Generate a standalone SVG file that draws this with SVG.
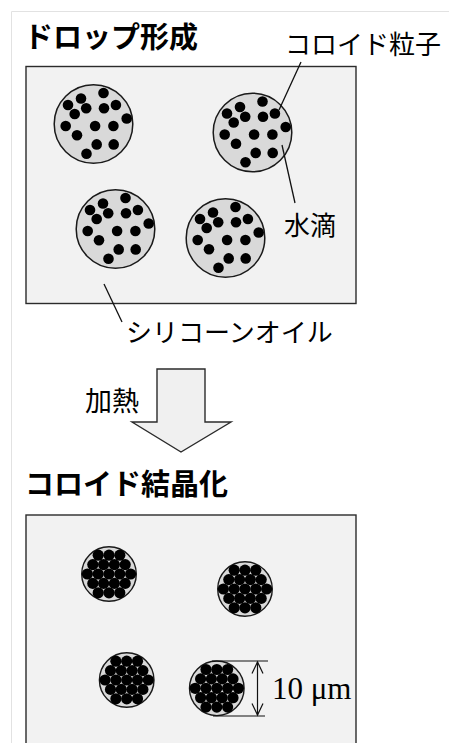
<svg xmlns="http://www.w3.org/2000/svg" width="449" height="743" viewBox="0 0 449 743">
  <style>
    .page { fill: none; stroke: #e2e2e2; stroke-width: 1; }
    .panel { fill: #f2f2f2; stroke: #2b2b2b; stroke-width: 1.4; }
    .drop { fill: #d9d9d9; stroke: #1a1a1a; stroke-width: 1.5; }
    .crystal { fill: #d9d9d9; stroke: #1a1a1a; stroke-width: 1.4; }
    .dot { fill: #000; }
    .lead { fill: none; stroke: #111; stroke-width: 1.3; }
    .dim { fill: none; stroke: #111; stroke-width: 1.2; }
    .arrow { fill: #f0f0f0; stroke: #2b2b2b; stroke-width: 1.4; stroke-linejoin: miter; }
    .title { font-family: "Noto Sans CJK JP", "Noto Sans", sans-serif; font-weight: bold; font-size: 29px; fill: #000; }
    .label { font-family: "Noto Sans CJK JP", "Noto Sans", sans-serif; font-size: 26px; fill: #000; }
    .serif { font-family: "Liberation Serif", "Noto Sans CJK JP", serif; font-size: 31px; fill: #000; }
  </style>
  <defs>
    <!-- scattered colloid particles inside a water drop (centre at 0,0) -->
    <g id="scatter">
      <circle class="dot" cx="10" cy="-31" r="5.3"/>
      <circle class="dot" cx="-12.5" cy="-25.5" r="5.3"/>
      <circle class="dot" cx="-25.5" cy="-19" r="5.3"/>
      <circle class="dot" cx="-7.3" cy="-15.7" r="5.3"/>
      <circle class="dot" cx="10.5" cy="-15.7" r="5.3"/>
      <circle class="dot" cx="22.4" cy="-19" r="5.3"/>
      <circle class="dot" cx="-18.8" cy="-10" r="5.3"/>
      <circle class="dot" cx="33.2" cy="-5.5" r="5.3"/>
      <circle class="dot" cx="-27.8" cy="2" r="5.3"/>
      <circle class="dot" cx="1.6" cy="2" r="5.3"/>
      <circle class="dot" cx="19.9" cy="2" r="5.3"/>
      <circle class="dot" cx="-16.5" cy="11.2" r="5.3"/>
      <circle class="dot" cx="3.2" cy="20.4" r="5.3"/>
      <circle class="dot" cx="20.2" cy="20.4" r="5.3"/>
      <circle class="dot" cx="-7" cy="29.7" r="5.3"/>
    </g>
    <!-- hexagonally packed particles (rows 3-4-5-4-3) -->
    <g id="packed">
      <circle class="dot" cx="-10.8" cy="-18.8" r="5.6"/>
      <circle class="dot" cx="0" cy="-18.8" r="5.6"/>
      <circle class="dot" cx="10.8" cy="-18.8" r="5.6"/>
      <circle class="dot" cx="-16.2" cy="-9.4" r="5.6"/>
      <circle class="dot" cx="-5.4" cy="-9.4" r="5.6"/>
      <circle class="dot" cx="5.4" cy="-9.4" r="5.6"/>
      <circle class="dot" cx="16.2" cy="-9.4" r="5.6"/>
      <circle class="dot" cx="-21.6" cy="0" r="5.6"/>
      <circle class="dot" cx="-10.8" cy="0" r="5.6"/>
      <circle class="dot" cx="0" cy="0" r="5.6"/>
      <circle class="dot" cx="10.8" cy="0" r="5.6"/>
      <circle class="dot" cx="21.6" cy="0" r="5.6"/>
      <circle class="dot" cx="-16.2" cy="9.4" r="5.6"/>
      <circle class="dot" cx="-5.4" cy="9.4" r="5.6"/>
      <circle class="dot" cx="5.4" cy="9.4" r="5.6"/>
      <circle class="dot" cx="16.2" cy="9.4" r="5.6"/>
      <circle class="dot" cx="-10.8" cy="18.8" r="5.6"/>
      <circle class="dot" cx="0" cy="18.8" r="5.6"/>
      <circle class="dot" cx="10.8" cy="18.8" r="5.6"/>
    </g>
  </defs>

  <rect width="449" height="743" fill="#fff"/>
  <path class="page" d="M449 11.5 H11.5 V743"/>

  <!-- stage 1: droplet formation -->
  <text class="title" x="24" y="48">ドロップ形成</text>
  <rect id="oil-bath-1" class="panel" x="26" y="66.5" width="330" height="237"/>

  <g id="drop-1">
    <circle class="drop" cx="93.5" cy="124" r="39.3"/>
    <use href="#scatter" x="93.5" y="124"/>
  </g>
  <g id="drop-2">
    <circle class="drop" cx="252.5" cy="132.5" r="39.3"/>
    <use href="#scatter" x="252.5" y="132.5"/>
  </g>
  <g id="drop-3">
    <circle class="drop" cx="115.5" cy="229" r="39.3"/>
    <use href="#scatter" x="115.5" y="229"/>
  </g>
  <g id="drop-4">
    <circle class="drop" cx="225.5" cy="238" r="39.3"/>
    <use href="#scatter" x="225.5" y="238"/>
  </g>

  <g id="connectors">
    <line class="lead" x1="301" y1="62" x2="279" y2="110"/>
    <line class="lead" x1="282" y1="145" x2="295" y2="203"/>
    <line class="lead" x1="104" y1="284" x2="122" y2="322"/>
  </g>

  <text class="label" x="285" y="54">コロイド粒子</text>
  <text class="label" x="284" y="235">水滴</text>
  <text class="label" x="126" y="342">シリコーンオイル</text>

  <!-- heating step -->
  <g id="heat-arrow">
    <path class="arrow" d="M157 369 H205 V422 H231 L181 452 L132 422 H157 Z"/>
    <text class="label" x="85" y="411" style="font-size:27px">加熱</text>
  </g>

  <!-- stage 2: colloidal crystallisation -->
  <text class="title" x="25" y="495">コロイド結晶化</text>
  <rect id="oil-bath-2" class="panel" x="26" y="515" width="330" height="240"/>

  <g id="crystal-1">
    <circle class="crystal" cx="109" cy="574" r="27.3"/>
    <use href="#packed" x="109" y="574"/>
  </g>
  <g id="crystal-2">
    <circle class="crystal" cx="245" cy="589" r="27.3"/>
    <use href="#packed" x="245" y="589"/>
  </g>
  <g id="crystal-3">
    <circle class="crystal" cx="126.7" cy="680" r="27.3"/>
    <use href="#packed" x="126.7" y="680"/>
  </g>
  <g id="crystal-4">
    <circle class="crystal" cx="216.8" cy="688.3" r="27.3"/>
    <use href="#packed" x="216.8" y="688.3"/>
  </g>

  <!-- size scale -->
  <g id="scale">
    <line class="dim" x1="212" y1="661" x2="268" y2="661"/>
    <line class="dim" x1="213" y1="716" x2="265" y2="716"/>
    <line class="dim" x1="257.5" y1="662" x2="257.5" y2="715"/>
    <path class="dim" d="M252 673.5 L257.5 662 L263 673.5"/>
    <path class="dim" d="M252 703.5 L257.5 715 L263 703.5"/>
    <text class="serif" x="272" y="699">10 μm</text>
  </g>
</svg>
